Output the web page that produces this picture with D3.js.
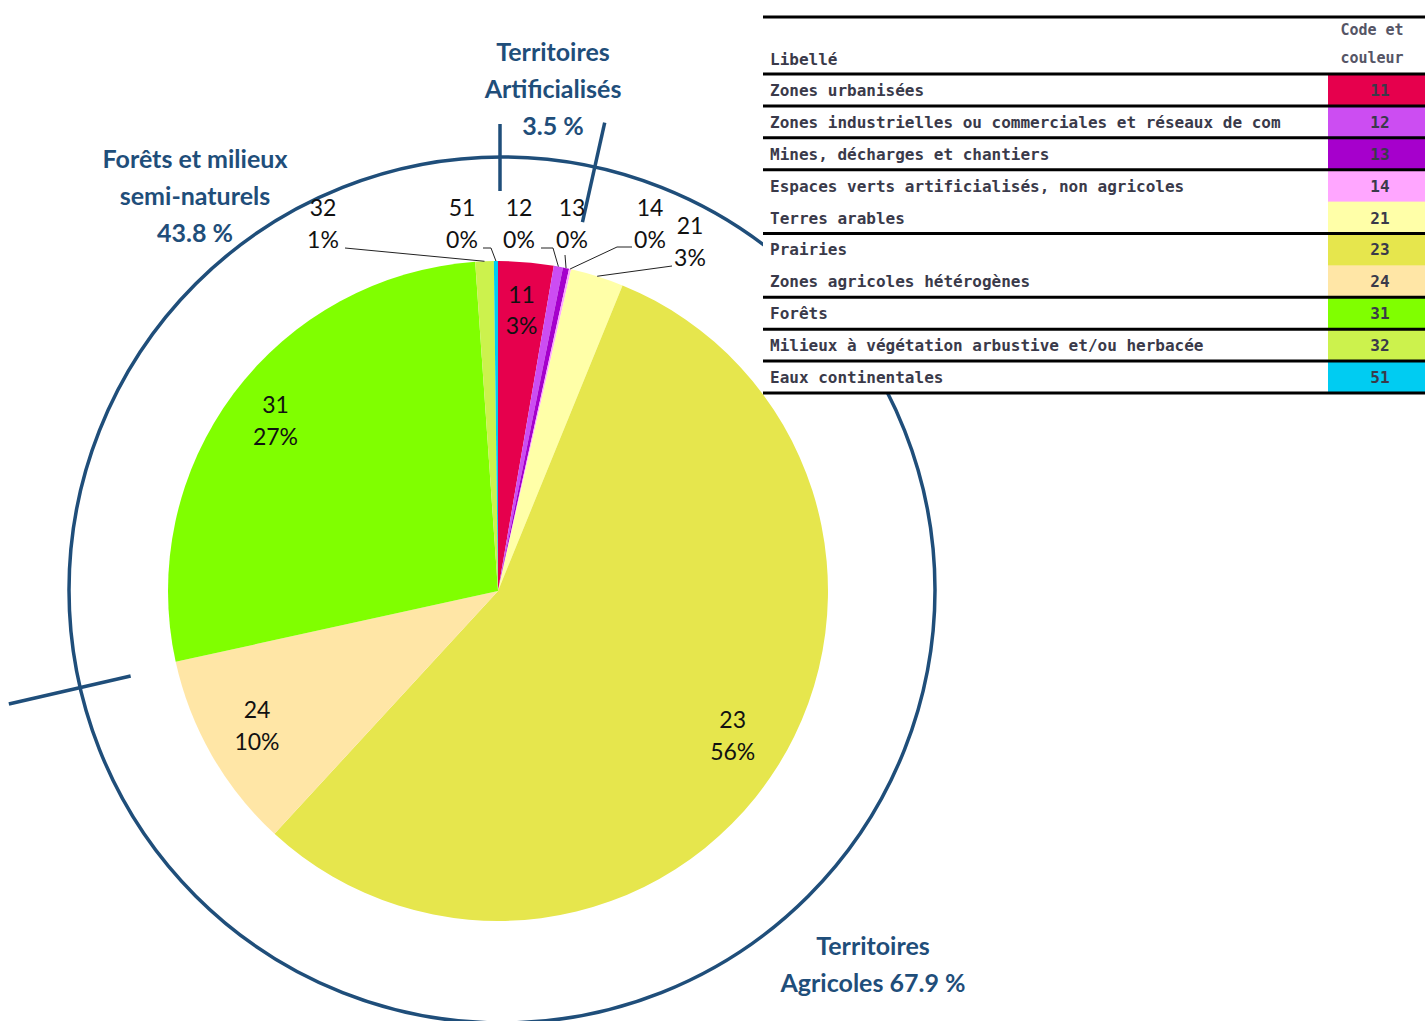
<!DOCTYPE html>
<html>
<head>
<meta charset="utf-8">
<script src="https://cdn.jsdelivr.net/npm/d3@7"></script>
<style>
  body { margin: 0; background: #fff; }
  svg { display: block; }
</style>
</head>
<body>
<svg id="chart" width="1425" height="1021"></svg>
<script>
// codes CORINE, libellés, couleurs et parts (%)
const codes = ["11", "12", "13", "14", "21", "23", "24", "31", "32", "51"];
const libelles = [
    "Zones urbanisées",
    "Zones industrielles ou commerciales et réseaux de com",
    "Mines, décharges et chantiers",
    "Espaces verts artificialisés, non agricoles",
    "Terres arables",
    "Prairies",
    "Zones agricoles hétérogènes",
    "Forêts",
    "Milieux à végétation arbustive et/ou herbacée",
    "Eaux continentales"
];
const couleurs = ["#e6004d", "#cc4df2", "#a600cc", "#ffa6ff", "#ffffa8",
                  "#e6e64d", "#ffe6a6", "#80ff00", "#ccf24d", "#00ccf2"];
const parts = [2.7, 0.45, 0.3, 0.1, 2.6, 55.6, 9.7, 27.3, 0.9, 0.2];

// grands groupes (titre, part en %)
const groupes = ["Territoires Artificialisés", "Territoires Agricoles", "Forêts et milieux semi-naturels"];
const groupesPct = [3.5, 67.9, 43.8];

const data = codes.map((c, i) => ({ code: c, libelle: libelles[i], couleur: couleurs[i], part: parts[i] }));

const svg = d3.select("#chart");
const cx = 498, cy = 591, r = 330;
const blue = "#1f4e7a";

// Cercle extérieur des groupes
svg.append("circle")
    .attr("cx", 502).attr("cy", 590).attr("r", 433)
    .attr("fill", "none").attr("stroke", blue).attr("stroke-width", 3.5);

// Camembert
const pie = d3.pie().sort(null).value(d => d.part);
const arcs = pie(data);
const total = d3.sum(data, d => d.part);
const arc = d3.arc().innerRadius(0).outerRadius(r);

const g = svg.append("g").attr("transform", `translate(${cx}, ${cy})`);
g.selectAll("path")
    .data(arcs)
    .enter()
    .append("path")
    .attr("d", arc)
    .attr("fill", d => d.data.couleur);

// Séparateurs radiaux entre groupes
const bornes = [0, groupesPct[0], groupesPct[0] + groupesPct[1]];
const rayons = [[400, 467], [378, 480], [379, 504]];
const angle = d3.scaleLinear().domain([0, 100]).range([0, 2 * Math.PI]);
bornes.forEach((b, i) => {
    const a = angle(b);
    svg.append("line")
        .attr("x1", 500 + rayons[i][0] * Math.sin(a))
        .attr("y1", cy - rayons[i][0] * Math.cos(a))
        .attr("x2", 500 + rayons[i][1] * Math.sin(a))
        .attr("y2", cy - rayons[i][1] * Math.cos(a))
        .attr("stroke", blue).attr("stroke-width", 3.5);
});

// Étiquettes des parts
const pct = d => Math.round(d.data.part / total * 100) + "%";
const labelFont = "Lato, 'Open Sans', sans-serif";
const arcIn = d3.arc().innerRadius(278).outerRadius(278);
const interieurs = ["11", "23", "24", "31"];

arcs.filter(d => interieurs.includes(d.data.code)).forEach(d => {
    const [x, y] = arcIn.centroid(d);
    const t = g.append("text")
        .attr("x", x).attr("y", y)
        .attr("text-anchor", "middle")
        .style("font-family", labelFont).style("font-size", "23px").attr("fill", "#111");
    t.append("tspan").attr("x", x).attr("dy", "-0.5em").text(d.data.code);
    t.append("tspan").attr("x", x).attr("dy", "1.38em").text(pct(d));
});

// étiquettes extérieures avec lignes de rappel
const exterieurs = {
    "32": { x: 323, y: 216, line: [[345, 248]] },
    "51": { x: 462, y: 216, line: [[483, 248], [491, 248]] },
    "12": { x: 519, y: 216, line: [[541, 248], [553, 248]] },
    "13": { x: 572, y: 216, line: [[565, 255]] },
    "14": { x: 650, y: 216, line: [[632, 247], [617, 247]] },
    "21": { x: 690, y: 234, line: [[672, 266]] }
};
const arcOut = d3.arc().innerRadius(r).outerRadius(r);
arcs.filter(d => exterieurs[d.data.code]).forEach(d => {
    const p = exterieurs[d.data.code];
    const [ex, ey] = arcOut.centroid(d);
    const pts = p.line.concat([[ex + cx, ey + cy]]);
    svg.append("path")
        .attr("d", d3.line()(pts))
        .attr("fill", "none").attr("stroke", "#222").attr("stroke-width", 1);
    const t = svg.append("text")
        .attr("x", p.x).attr("y", p.y)
        .attr("text-anchor", "middle")
        .style("font-family", labelFont).style("font-size", "23px").attr("fill", "#111");
    t.append("tspan").attr("x", p.x).text(d.data.code);
    t.append("tspan").attr("x", p.x).attr("dy", 32).text(pct(d));
});

// Titres des groupes
const titres = [
    { x: 553, y: 61, lignes: ["Territoires", "Artificialisés", groupesPct[0] + " %"] },
    { x: 195, y: 168, lignes: ["Forêts et milieux", "semi-naturels", groupesPct[2] + " %"] },
    { x: 873, y: 955, lignes: ["Territoires", "Agricoles " + groupesPct[1] + " %"] }
];
titres.forEach(tt => {
    const t = svg.append("text")
        .attr("text-anchor", "middle")
        .style("font-family", labelFont).style("font-size", "25px").style("font-weight", "bold")
        .attr("fill", blue);
    tt.lignes.forEach((l, i) => {
        t.append("tspan").attr("x", tt.x).attr("y", tt.y + i * 37).text(l);
    });
});

// Tableau de légende
const tx0 = 763, tx1 = 1425, cellX = 1328;
const tableFont = "'DejaVu Sans Mono', monospace";
const yRow = d3.scaleBand().domain(codes).range([74, 393]);

const table = svg.append("g");
// fond blanc qui masque le cercle
table.append("rect")
    .attr("x", tx0).attr("y", 17)
    .attr("width", tx1 - tx0).attr("height", 393 - 17)
    .attr("fill", "#fff");

table.selectAll("rect.cell")
    .data(data)
    .enter()
    .append("rect")
    .attr("class", "cell")
    .attr("x", cellX).attr("y", d => yRow(d.code))
    .attr("width", tx1 - cellX).attr("height", yRow.bandwidth() + 0.5)
    .attr("fill", d => d.couleur);

table.selectAll("text.lib")
    .data(data)
    .enter()
    .append("text")
    .attr("class", "lib")
    .attr("x", 770).attr("y", d => yRow(d.code) + yRow.bandwidth() / 2 + 6)
    .style("font-family", tableFont).style("font-size", "16px").style("font-weight", "bold")
    .attr("fill", "#3a3a4a")
    .text(d => d.libelle);

table.selectAll("text.code")
    .data(data)
    .enter()
    .append("text")
    .attr("class", "code")
    .attr("x", 1380).attr("y", d => yRow(d.code) + yRow.bandwidth() / 2 + 6)
    .attr("text-anchor", "middle")
    .style("font-family", tableFont).style("font-size", "16px").style("font-weight", "bold")
    .attr("fill", "#3a3a4a")
    .text(d => d.code);

// entête
table.append("text").attr("x", 770).attr("y", 65)
    .style("font-family", tableFont).style("font-size", "16px").style("font-weight", "bold")
    .attr("fill", "#3a3a4a")
    .text("Libellé");
table.append("text").attr("x", 1372).attr("y", 35).attr("text-anchor", "middle")
    .style("font-family", tableFont).style("font-size", "15px").style("font-weight", "bold")
    .attr("fill", "#555566")
    .text("Code et");
table.append("text").attr("x", 1372).attr("y", 63).attr("text-anchor", "middle")
    .style("font-family", tableFont).style("font-size", "15px").style("font-weight", "bold")
    .attr("fill", "#555566")
    .text("couleur");

// traits horizontaux (pas de trait après 14 et 23)
const traits = [17, 74].concat(data
    .filter(d => d.code !== "14" && d.code !== "23")
    .map(d => yRow(d.code) + yRow.bandwidth()));
table.selectAll("line")
    .data(traits)
    .enter()
    .append("line")
    .attr("x1", tx0).attr("x2", tx1)
    .attr("y1", d => d).attr("y2", d => d)
    .attr("stroke", "#000").attr("stroke-width", 3);
</script>
</body>
</html>
